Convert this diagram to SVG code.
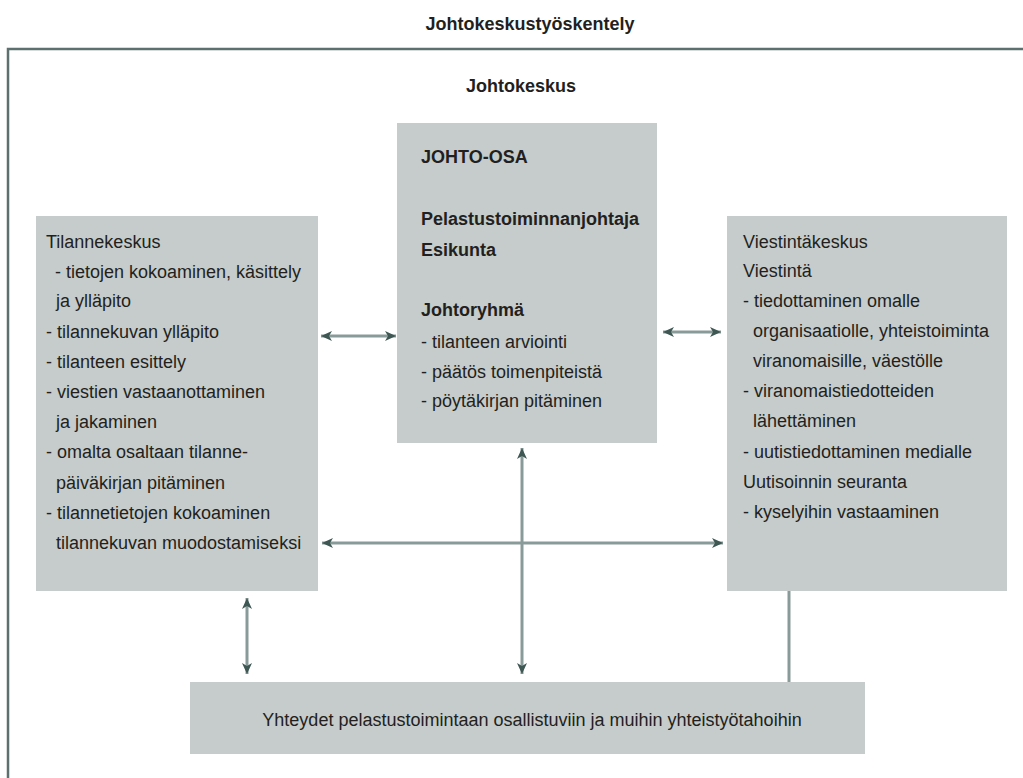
<svg xmlns="http://www.w3.org/2000/svg" width="1023" height="778" viewBox="0 0 1023 778">
<style>
text{font-family:"Liberation Sans",Arial,sans-serif;font-size:18px;fill:#231f20}
.b{font-weight:bold}
.box{fill:#c5cccb}
.frame{stroke:#5c706d;stroke-width:2.5;fill:none}
.con{stroke:#899b98;stroke-width:3;fill:none}
.arr{marker-start:url(#ah);marker-end:url(#ah)}
</style>
<defs>
<marker id="ah" markerUnits="userSpaceOnUse" markerWidth="12" markerHeight="10" refX="11" refY="5" orient="auto-start-reverse">
<path d="M0,0 L11,5 L0,10 L3,5 z" fill="#3e5753"/>
</marker>
</defs>
<rect width="1023" height="778" fill="#ffffff"/>
<text class="b" x="530" y="30" text-anchor="middle">Johtokeskustyöskentely</text>
<path class="frame" d="M1023,49 H8 V778"/>
<text class="b" x="521" y="92" text-anchor="middle">Johtokeskus</text>

<g id="connectors">
<line class="con arr" x1="321" y1="336" x2="396" y2="336"/>
<line class="con arr" x1="663" y1="332" x2="721" y2="332"/>
<line class="con arr" x1="322" y1="543" x2="723" y2="543"/>
<line class="con arr" x1="247" y1="598" x2="247" y2="674"/>
<line class="con arr" x1="522" y1="448" x2="522" y2="674"/>
<line class="con" x1="789" y1="590" x2="789" y2="682"/>
</g>

<g id="johto-osa">
<rect class="box" x="397" y="123" width="260" height="320"/>
<text class="b" x="421" y="163">JOHTO-OSA</text>
<text class="b" x="421" y="225">Pelastustoiminnanjohtaja</text>
<text class="b" x="421" y="256">Esikunta</text>
<text class="b" x="421" y="316">Johtoryhmä</text>
<text x="421" y="348">- tilanteen arviointi</text>
<text x="421" y="378">- päätös toimenpiteistä</text>
<text x="421" y="407">- pöytäkirjan pitäminen</text>
</g>

<g id="tilannekeskus">
<rect class="box" x="36" y="216" width="282" height="375"/>
<text x="46" y="248">Tilannekeskus</text>
<text x="55" y="278">- tietojen kokoaminen, käsittely</text>
<text x="56" y="307">ja ylläpito</text>
<text x="46" y="338">- tilannekuvan ylläpito</text>
<text x="46" y="368">- tilanteen esittely</text>
<text x="46" y="398">- viestien vastaanottaminen</text>
<text x="56" y="428">ja jakaminen</text>
<text x="46" y="458">- omalta osaltaan tilanne-</text>
<text x="56" y="489">päiväkirjan pitäminen</text>
<text x="46" y="519">- tilannetietojen kokoaminen</text>
<text x="56" y="549">tilannekuvan muodostamiseksi</text>
</g>

<g id="viestintakeskus">
<rect class="box" x="727" y="216" width="280" height="375"/>
<text x="743" y="248">Viestintäkeskus</text>
<text x="743" y="277">Viestintä</text>
<text x="743" y="307">- tiedottaminen omalle</text>
<text x="753" y="337">organisaatiolle, yhteistoiminta</text>
<text x="753" y="367">viranomaisille, väestölle</text>
<text x="743" y="397">- viranomaistiedotteiden</text>
<text x="753" y="427">lähettäminen</text>
<text x="743" y="458">- uutistiedottaminen medialle</text>
<text x="743" y="488">Uutisoinnin seuranta</text>
<text x="743" y="518">- kyselyihin vastaaminen</text>
</g>

<g id="yhteydet">
<rect class="box" x="190" y="682" width="675" height="72"/>
<text x="532" y="726" text-anchor="middle">Yhteydet pelastustoimintaan osallistuviin ja muihin yhteistyötahoihin</text>
</g>
</svg>
